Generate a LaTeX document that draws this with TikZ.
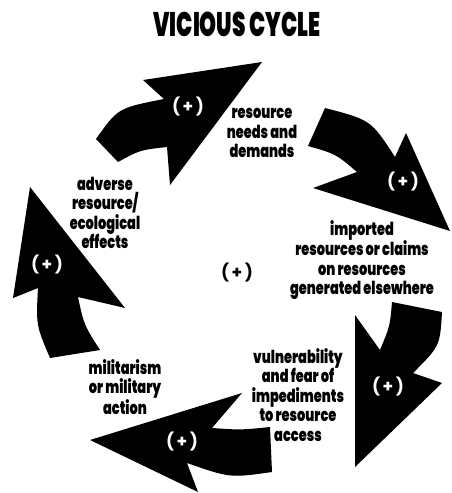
\documentclass[tikz,border=0pt]{standalone}
\usepackage{fontspec}
\setmainfont{Poppins}[FakeStretch=0.72, BoldFont={Poppins Black}]
\newfontfamily\plusfont{Poppins Bold}
\usepackage{tikz}
\usetikzlibrary{positioning}

\begin{document}
\begin{tikzpicture}[x=1pt, y=-1pt]
        \tikzset{lbl/.style={font=\bfseries\fontsize{18}{19.5}\selectfont,
                 align=center, inner sep=0pt},
                 plus/.style={font=\plusfont\fontsize{17}{17}\selectfont, inner sep=0pt},
                 blockarrow/.style={fill=black, draw=none}}
        \newcommand{\plussign}{(\hspace{2.5pt}+\hspace{2.5pt})}
        \useasboundingbox (0,0) rectangle (452,493);

        \node[font=\bfseries\fontsize{34}{34}\selectfont, xscale=0.88] (title) at (237,24) {VICIOUS CYCLE};

        % the five arrows of the cycle
        \fill[blockarrow] (96,139) .. controls (118,108) .. (164,99) -- (143,80) -- (262,62)
          -- (170,185) -- (167,147) .. controls (140,150) .. (118,162) -- cycle;
        \fill[blockarrow] (325,108) .. controls (371,120) .. (395,157) -- (406,133) -- (450,231)
          -- (313,188) -- (357,172) .. controls (336,154) .. (308,146) -- cycle;
        \fill[blockarrow] (392,302) -- (442,312) .. controls (440,346) .. (413,373) -- (442,383)
          -- (355,467) -- (355,315) -- (380,350) .. controls (390,326) .. cycle;
        \fill[blockarrow] (270,427) -- (272,472) .. controls (230,478) .. (187,463) -- (198,492)
          -- (90,440) -- (242,393) -- (212,428) .. controls (241,430) .. cycle;
        \fill[blockarrow] (100,350) -- (50,358) .. controls (36,325) .. (38,288) -- (13,298)
          -- (30,187) -- (125,308) -- (78,297) .. controls (84,325) .. cycle;

        \node[plus, text=white] (p1) at (188,107) {\plussign};
        \node[plus, text=white] (p2) at (403,182) {\plussign};
        \node[plus, text=white] (p3) at (388,387) {\plussign};
        \node[plus, text=white] (p4) at (182,442) {\plussign};
        \node[plus, text=white] (p5) at (47,265)  {\plussign};
        \node[plus] (loop) at (237,273) {\plussign};

        \node[lbl] (needs)    at (262,133) {resource\\needs and\\demands};
        \node[lbl] (imported) at (362,260) {imported\\resources or claims\\on resources\\generated elsewhere};
        \node[lbl] (vuln)     at (298,395) {vulnerability\\and fear of\\impediments\\to resource\\access};
        \node[lbl] (military) at (125,387) {militarism\\or military\\action};
        \node[lbl] (adverse)  at (105,213) {adverse\\resource/\\ecological\\effects};
      \end{tikzpicture}
\end{document}
